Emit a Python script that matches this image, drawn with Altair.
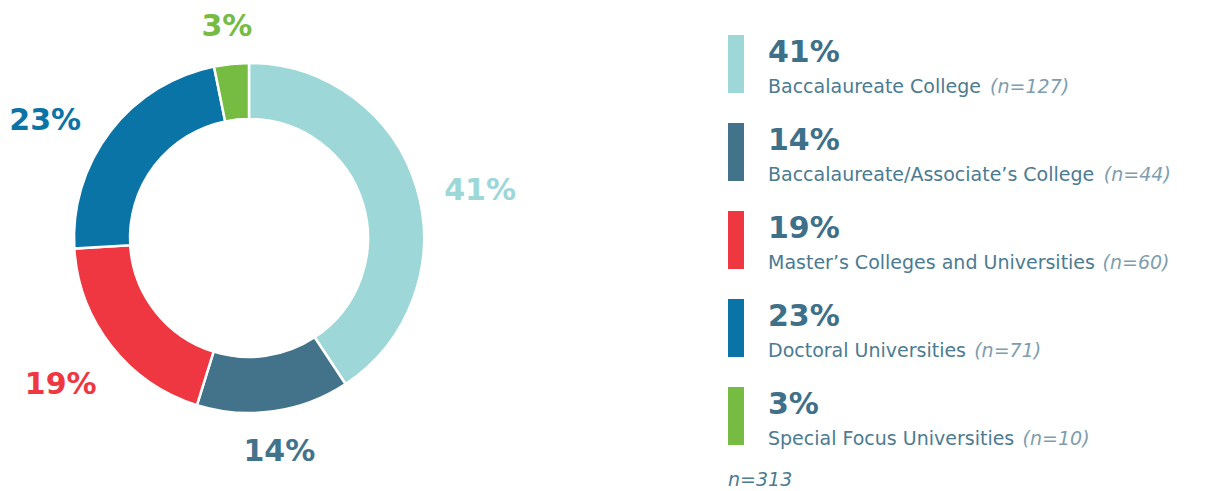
import altair as alt
import pandas as pd

categories = [
    "Baccalaureate College",
    "Baccalaureate/Associate’s College",
    "Master’s Colleges and Universities",
    "Doctoral Universities",
    "Special Focus Universities",
]
counts = [127, 44, 60, 71, 10]
percents = [41, 14, 19, 23, 3]
colors = ["#9dd7d8", "#42738b", "#ef3742", "#0b74a6", "#76bc43"]
total_label = "n=313"

df = pd.DataFrame({
    "idx": list(range(len(categories))),
    "cat": categories,
    "count": counts,
    "pct_label": [f"{p}%" for p in percents],
    "n_label": [f"(n={c})" for c in counts],
})

FONT = "DejaVu Sans"
PCT_COLOR = "#3e7089"
LABEL_COLOR = "#4b7b91"
N_COLOR = "#7e9dae"
LABEL_SIZE = 19

color_scale = alt.Scale(domain=categories, range=colors)

# ---------- donut ----------
arcs = alt.Chart(df).mark_arc(
    outerRadius=175, innerRadius=119, stroke="white", strokeWidth=2.5
).encode(
    theta=alt.Theta("count:Q", stack=True),
    order=alt.Order("idx:Q"),
    color=alt.Color("cat:N", scale=color_scale, legend=None),
)
labels = alt.Chart(df).transform_joinaggregate(
    total="sum(count)"
).transform_window(
    cum="sum(count)", sort=[alt.SortField("idx")]
).transform_calculate(
    mid="2*PI*(datum.cum - datum.count/2)/datum.total",
    ang="datum.mid + (20*PI/180)*sin(datum.mid)*abs(sin(datum.mid))*max(cos(datum.mid), 0)",
    hw="length(datum.pct_label)*11.5",
    lr="200 + datum.hw*abs(sin(datum.ang)) + 10*abs(cos(datum.ang)) + 12*max(-cos(datum.ang), 0)*abs(sin(datum.ang))",
).mark_text(
    font=FONT, fontWeight="bold", fontSize=30, baseline="middle", align="center"
).encode(
    theta=alt.Theta("ang:Q", scale=None, stack=False),
    radius=alt.Radius("lr:Q", scale=None, stack=False),
    text="pct_label:N",
    color=alt.Color("cat:N", scale=color_scale, legend=None),
)
donut = alt.layer(arcs, labels).properties(width=482, height=460)

# ---------- legend ----------
ysc = alt.Scale(domain=categories, paddingInner=0.341, paddingOuter=0.284, align=0.54)
lb = alt.Chart(df)
bars = lb.mark_rect().encode(
    x=alt.value(0), x2=alt.value(16),
    y=alt.Y("cat:N", scale=ysc, axis=None),
    color=alt.Color("cat:N", scale=color_scale, legend=None),
)
pct_text = lb.mark_text(
    font=FONT, fontWeight="bold", fontSize=30, align="left", baseline="alphabetic",
    dy=27, color=PCT_COLOR,
).encode(
    x=alt.value(40),
    y=alt.Y("cat:N", scale=ysc, axis=None, bandPosition=0),
    text="pct_label:N",
)
cat_text = lb.mark_text(
    font=FONT, fontSize=LABEL_SIZE, align="left", baseline="alphabetic", color=LABEL_COLOR,
).encode(
    x=alt.value(40),
    y=alt.Y("cat:N", scale=ysc, axis=None, bandPosition=1),
    text="cat:N",
)

# approximate advance widths (DejaVu Sans, units of 1/2048 em) per character class
char_classes = [
    ("[il]", 569),
    ("[ ’'/]", 651),
    ("[tfr]", 820),
    ("[s]", 1067),
    ("[c]", 1126),
    ("[FS]", 1240),
    ("[ABCEGHKNOPQRTUVXYZ]", 1430),
    ("[D]", 1577),
    ("[MW]", 1767),
]
OTHER_W = 1270


def count_expr(cls):
    return f"(length(replace(datum.cat, regexp(\"{cls}\", 'g'), '##')) - length(datum.cat))"


n_chain = lb
calc = {f"k{i}": count_expr(cls) for i, (cls, _) in enumerate(char_classes)}
n_chain = n_chain.transform_calculate(**calc)
rest = "length(datum.cat) - " + " - ".join(f"datum.k{i}" for i in range(len(char_classes)))
wsum = " + ".join(f"{w}*datum.k{i}" for i, (_, w) in enumerate(char_classes))
n_chain = n_chain.transform_calculate(krest=rest).transform_calculate(
    wid=f"{LABEL_SIZE}/2048*({wsum} + {OTHER_W}*datum.krest)"
).transform_calculate(nx="40 + datum.wid + 8")

n_text = n_chain.mark_text(
    font=FONT, fontSize=LABEL_SIZE, fontStyle="italic", align="left", baseline="alphabetic", color=N_COLOR,
).encode(
    x=alt.X("nx:Q", scale=None),
    y=alt.Y("cat:N", scale=ysc, axis=None, bandPosition=1),
    text="n_label:N",
)
total_text = alt.Chart(pd.DataFrame({"t": [total_label]})).mark_text(
    font=FONT, fontSize=LABEL_SIZE, fontStyle="italic", align="left", baseline="alphabetic", color=LABEL_COLOR,
).encode(
    x=alt.value(0), y=alt.value(478), text="t:N",
)
legend = alt.layer(bars, pct_text, cat_text, n_text, total_text).properties(width=470, height=460)

chart = alt.hconcat(donut, legend, spacing=238, bounds="flush").properties(padding=0).configure_view(stroke=None)

chart.save("out.html", embed_options={"renderer": "svg", "actions": False})
